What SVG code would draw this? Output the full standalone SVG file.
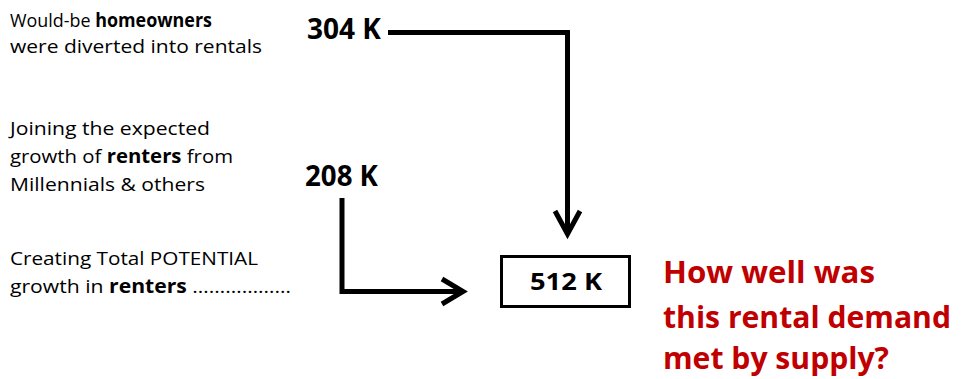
<svg xmlns="http://www.w3.org/2000/svg" width="961" height="379" viewBox="0 0 961 379">
  <defs>
    <style>
      .note { font-family: "Open Sans", "Noto Sans", sans-serif; font-size: 19px; fill: #000; }
      .b { font-weight: bold; }
      .num { font-family: "Open Sans", "Noto Sans", sans-serif; font-size: 29px; font-weight: bold; fill: #000; }
      .box { font-family: "Open Sans", "Noto Sans", sans-serif; font-size: 24px; font-weight: bold; fill: #000; }
      .ask { font-family: "Open Sans", "Noto Sans", sans-serif; font-size: 30px; font-weight: bold; fill: #C00000; }
      .wire { fill: none; stroke: #000; stroke-width: 5; stroke-linejoin: miter; }
      .head { fill: none; stroke: #000; stroke-width: 5; stroke-linecap: butt; stroke-linejoin: miter; }
    </style>
  </defs>
  <rect width="961" height="379" fill="#fff"/>

  <!-- explanatory notes on the left -->
  <g id="note-homeowners">
    <text class="note" x="10" y="27" textLength="202" lengthAdjust="spacingAndGlyphs">Would-be <tspan class="b">homeowners</tspan></text>
    <text class="note" x="10" y="53" textLength="252" lengthAdjust="spacingAndGlyphs">were diverted into rentals</text>
  </g>
  <g id="note-renters">
    <text class="note" x="10" y="135" textLength="200" lengthAdjust="spacingAndGlyphs">Joining the expected</text>
    <text class="note" x="10" y="163" textLength="223" lengthAdjust="spacingAndGlyphs">growth of <tspan class="b">renters</tspan> from</text>
    <text class="note" x="10" y="191" textLength="195" lengthAdjust="spacingAndGlyphs">Millennials &amp; others</text>
  </g>
  <g id="note-total">
    <text class="note" x="10" y="265" textLength="248" lengthAdjust="spacingAndGlyphs">Creating Total POTENTIAL</text>
    <text class="note" x="10" y="293" textLength="281" lengthAdjust="spacingAndGlyphs">growth in <tspan class="b">renters</tspan>  ………………</text>
  </g>

  <!-- quantities -->
  <g id="n304">
    <text class="num" x="307" y="38.5" textLength="74" lengthAdjust="spacingAndGlyphs">304 K</text>
  </g>
  <g id="n208">
    <text class="num" x="305" y="185.5" textLength="73" lengthAdjust="spacingAndGlyphs">208 K</text>
  </g>
  <g id="n512">
    <rect x="501.5" y="256.5" width="128" height="50" fill="#fff" stroke="#000" stroke-width="3"/>
    <text class="box" x="530" y="290" textLength="72" lengthAdjust="spacingAndGlyphs">512 K</text>
  </g>

  <!-- question -->
  <g id="question">
    <text class="ask" x="663" y="283" textLength="212" lengthAdjust="spacingAndGlyphs">How well was</text>
    <text class="ask" x="663" y="328" textLength="288" lengthAdjust="spacingAndGlyphs">this rental demand</text>
    <text class="ask" x="663" y="369" textLength="226" lengthAdjust="spacingAndGlyphs">met by supply?</text>
  </g>

  <!-- connectors -->
  <g id="connectors">
    <path class="wire" d="M388 32.5 H567.5 V234"/>
    <polyline class="head" points="555,211 567.5,234 580,211"/>
    <path class="wire" d="M342 198 V291.5 H462"/>
    <polyline class="head" points="442,279 463,291.5 442,304"/>
  </g>
</svg>
